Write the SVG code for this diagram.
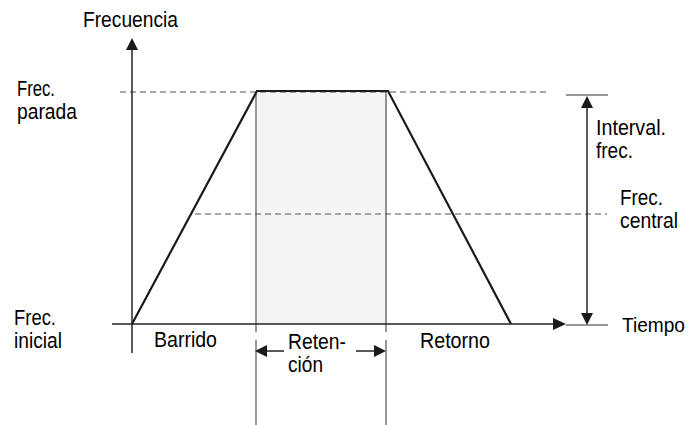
<svg xmlns="http://www.w3.org/2000/svg" width="693" height="425" viewBox="0 0 693 425">
<style>
text{font-family:"Liberation Sans",Arial,sans-serif;font-size:22.5px;fill:#000}
.ax{stroke:#222;stroke-width:1.5;fill:none}
.thin{stroke:#333;stroke-width:1;fill:none}
.dash{stroke:#555;stroke-width:1.2;stroke-dasharray:6 4;fill:none}
.trap{stroke:#1a1a1a;stroke-width:2.2;fill:none;stroke-linejoin:miter}
.head{fill:#1a1a1a}
</style>
<rect x="257" y="92" width="130" height="232" fill="#f4f4f4"/>
<g id="connectors">
<line class="dash" x1="120" y1="92" x2="548" y2="92"/>
<line class="dash" x1="195" y1="214" x2="607" y2="214"/>
<line class="thin" x1="256" y1="92" x2="256" y2="332"/>
<line class="thin" x1="256" y1="340" x2="256" y2="425"/>
<line class="thin" x1="386" y1="92" x2="386" y2="332"/>
<line class="thin" x1="386" y1="340" x2="386" y2="425"/>
<polyline class="trap" points="132,324 257,91 388,91 511,324"/>
<line class="ax" x1="132" y1="48" x2="132" y2="353"/>
<polygon class="head" points="132,38 126,50 138,50"/>
<line class="ax" x1="112" y1="324" x2="555" y2="324"/>
<polygon class="head" points="566,324 553,318 553,330"/>
<line class="thin" x1="566" y1="95" x2="608" y2="95"/>
<line class="thin" x1="566" y1="325" x2="608" y2="325"/>
<line class="ax" x1="587" y1="106" x2="587" y2="314"/>
<polygon class="head" points="587,96 581,108 593,108"/>
<polygon class="head" points="587,325 581,313 593,313"/>
<line class="ax" x1="266" y1="351" x2="284" y2="351"/>
<polygon class="head" points="255,351 267,345 267,357"/>
<line class="ax" x1="356" y1="351" x2="375" y2="351"/>
<polygon class="head" points="386,351 374,345 374,357"/>
</g>
<g id="y-axis-label"><text x="83" y="27" textLength="95" lengthAdjust="spacingAndGlyphs">Frecuencia</text></g>
<g id="frec-parada"><text x="17" y="96" textLength="38" lengthAdjust="spacingAndGlyphs">Frec.</text><text x="17" y="119" textLength="60" lengthAdjust="spacingAndGlyphs">parada</text></g>
<g id="frec-inicial"><text x="14" y="325" textLength="42" lengthAdjust="spacingAndGlyphs">Frec.</text><text x="14" y="348" textLength="48" lengthAdjust="spacingAndGlyphs">inicial</text></g>
<g id="barrido"><text x="154" y="347" textLength="63" lengthAdjust="spacingAndGlyphs">Barrido</text></g>
<g id="retencion"><text x="288" y="349" textLength="58" lengthAdjust="spacingAndGlyphs">Reten-</text><text x="288" y="372" textLength="35" lengthAdjust="spacingAndGlyphs">ción</text></g>
<g id="retorno"><text x="420" y="348" textLength="70" lengthAdjust="spacingAndGlyphs">Retorno</text></g>
<g id="tiempo"><text x="622" y="332" style="font-size:20.5px" textLength="63" lengthAdjust="spacingAndGlyphs">Tiempo</text></g>
<g id="interval"><text x="596" y="135" textLength="70" lengthAdjust="spacingAndGlyphs">Interval.</text><text x="596" y="158" textLength="37" lengthAdjust="spacingAndGlyphs">frec.</text></g>
<g id="frec-central"><text x="620" y="205" textLength="43" lengthAdjust="spacingAndGlyphs">Frec.</text><text x="620" y="228" textLength="58" lengthAdjust="spacingAndGlyphs">central</text></g>
</svg>
